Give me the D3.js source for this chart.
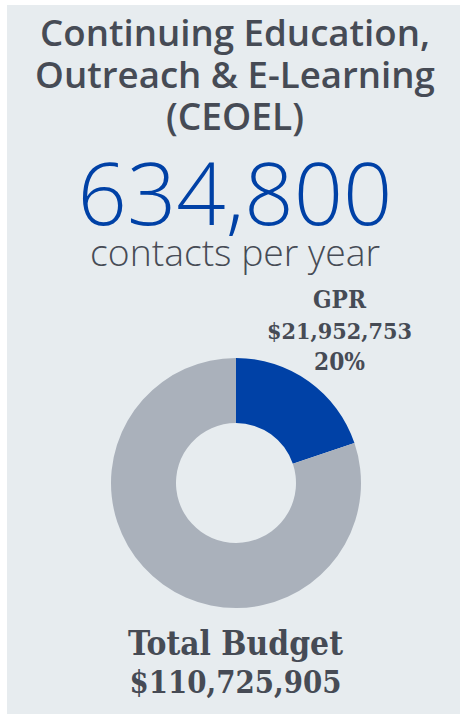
<!DOCTYPE html>
<html>
<head>
<meta charset="utf-8">
<script src="https://cdn.jsdelivr.net/npm/d3@7"></script>
<style>
  html, body { margin: 0; padding: 0; background: #fff; }
  svg { display: block; }
</style>
</head>
<body>
<div id="chart"></div>
<script>
// chart data
const titleLines = ['Continuing Education,', 'Outreach & E-Learning', '(CEOEL)'];
const contacts = 634800;
const contactsLabel = 'contacts per year';
const segments = ['GPR', 'Other'];
const amounts = [21952753, 88773152];
const totalLabel = 'Total Budget';
const totalBudget = 110725905;

const width = 460, height = 714;
const cx = 235;

const svg = d3.select('#chart')
    .append('svg')
    .attr('width', width)
    .attr('height', height);

// panel background
svg.append('rect')
    .attr('x', 7)
    .attr('y', 5)
    .attr('width', width - 7)
    .attr('height', height - 5)
    .attr('fill', '#e7ecef');

// scale a text so it spans the given width
function fit(sel, target) {
    const len = sel.node().getComputedTextLength();
    const size = parseFloat(sel.style('font-size'));
    sel.style('font-size', (size * target / len) + 'px');
    return sel;
}

const sans = '"Open Sans", Lato, sans-serif';
const slab = '"DejaVu Serif Condensed", "DejaVu Serif", serif';
const dark = '#464b55';

// title
const titleY = [46, 88, 130];
const titleW = [390, 400, 138];
titleLines.forEach((t, i) => {
    const txt = svg.append('text')
        .attr('x', cx)
        .attr('y', titleY[i])
        .attr('text-anchor', 'middle')
        .style('font-family', sans)
        .style('font-weight', 600)
        .style('font-size', '33px')
        .attr('fill', dark)
        .text(t);
    fit(txt, titleW[i]);
});

// big number
fit(svg.append('text')
    .attr('x', cx)
    .attr('y', 225)
    .attr('text-anchor', 'middle')
    .style('font-family', sans)
    .style('font-weight', 300)
    .style('font-size', '86px')
    .attr('fill', '#0041a6')
    .text(d3.format(',')(contacts)), 315);

fit(svg.append('text')
    .attr('x', cx)
    .attr('y', 266)
    .attr('text-anchor', 'middle')
    .style('font-family', sans)
    .style('font-weight', 300)
    .style('font-size', '34px')
    .attr('fill', dark)
    .text(contactsLabel), 290);

// donut
const pie = d3.pie().sort(null).value(d => d.value);
const arcs = pie(segments.map((s, i) => ({ name: s, value: amounts[i] })));
const arc = d3.arc().innerRadius(60).outerRadius(125);
const color = d3.scaleOrdinal().domain(segments).range(['#0041a6', '#aab1bb']);

svg.append('g')
    .attr('transform', `translate(${cx + 1},483)`)
    .selectAll('path')
    .data(arcs)
    .enter()
    .append('path')
    .attr('d', arc)
    .attr('fill', d => color(d.data.name));

// GPR label
const total = d3.sum(amounts);
const gprLines = [segments[0], '$' + d3.format(',')(amounts[0]), d3.format('.0%')(amounts[0] / total)];
const gprY = [308, 339, 370];
const gprW = [53, 145, 51];
gprLines.forEach((t, i) => {
    fit(svg.append('text')
        .attr('x', 339.5)
        .attr('y', gprY[i])
        .attr('text-anchor', 'middle')
        .style('font-family', slab)
        .style('font-weight', 700)
        .style('font-size', '24px')
        .attr('fill', dark)
        .text(t), gprW[i]);
});

// total budget
const totLines = [totalLabel, '$' + d3.format(',')(totalBudget)];
const totY = [655, 693];
const totW = [215, 212];
totLines.forEach((t, i) => {
    fit(svg.append('text')
        .attr('x', cx + 0.5)
        .attr('y', totY[i])
        .attr('text-anchor', 'middle')
        .style('font-family', slab)
        .style('font-weight', 700)
        .style('font-size', '30px')
        .attr('fill', dark)
        .text(t), totW[i]);
});
</script>
</body>
</html>
